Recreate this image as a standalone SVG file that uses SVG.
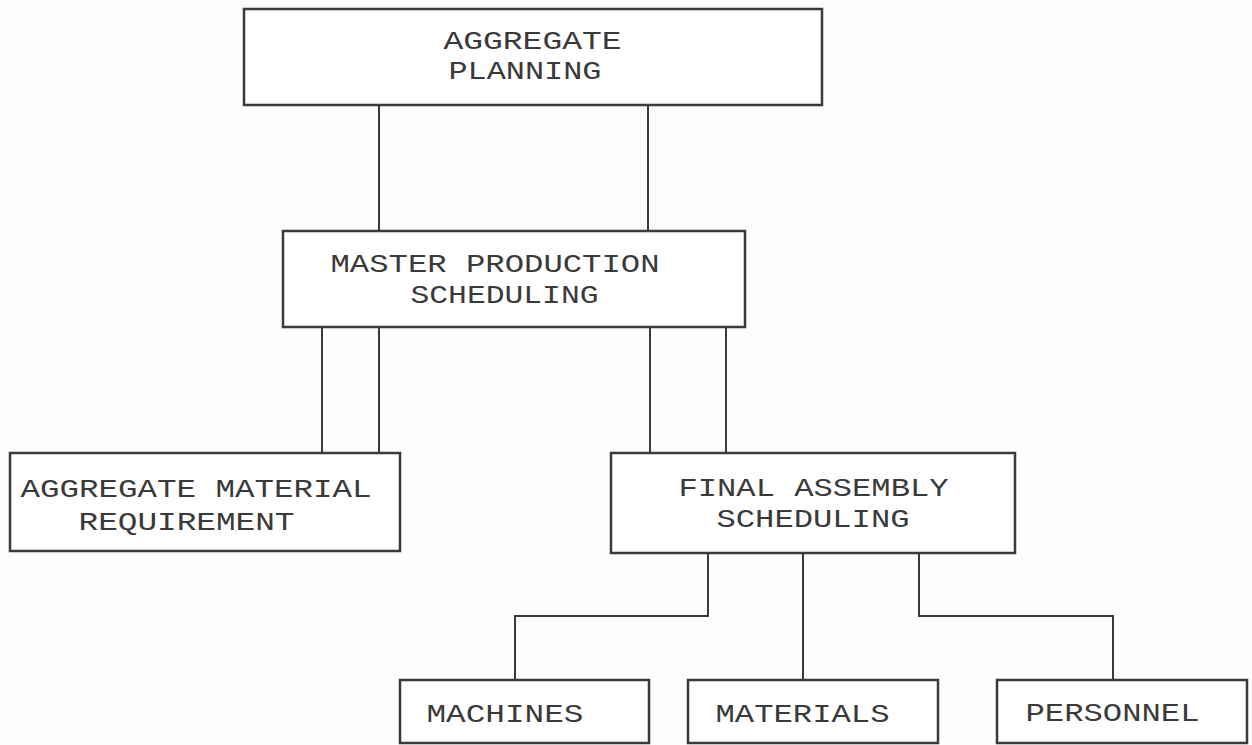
<svg xmlns="http://www.w3.org/2000/svg" width="1252" height="745" viewBox="0 0 1252 745">
<style>
.box{fill:#ffffff;stroke:#3a3a3a;stroke-width:2.5}
.ln{fill:none;stroke:#3a3a3a;stroke-width:2}
.t{font-family:"Liberation Mono","Courier New",monospace;font-size:26px;fill:#3a3a3a;text-anchor:middle}
</style>
<rect width="1252" height="745" fill="#fdfdfd"/>
<g id="connectors">
<line class="ln" x1="379" y1="105" x2="379" y2="231"/>
<line class="ln" x1="648" y1="105" x2="648" y2="231"/>
<line class="ln" x1="322" y1="327" x2="322" y2="453"/>
<line class="ln" x1="379" y1="327" x2="379" y2="453"/>
<line class="ln" x1="650" y1="327" x2="650" y2="453"/>
<line class="ln" x1="726" y1="327" x2="726" y2="453"/>
<polyline class="ln" points="708,553 708,616 515,616 515,680"/>
<line class="ln" x1="803" y1="553" x2="803" y2="680"/>
<polyline class="ln" points="919,553 919,616 1113,616 1113,680"/>
</g>
<g id="aggregate-planning">
<rect class="box" x="244" y="9" width="578" height="96"/>
<text class="t" x="532.5" y="49" textLength="178" lengthAdjust="spacingAndGlyphs">AGGREGATE</text>
<text class="t" x="525" y="79" textLength="153" lengthAdjust="spacingAndGlyphs">PLANNING</text>
</g>
<g id="master-production-scheduling">
<rect class="box" x="283" y="231" width="462" height="96"/>
<text class="t" x="495" y="272" textLength="329" lengthAdjust="spacingAndGlyphs">MASTER PRODUCTION</text>
<text class="t" x="504.5" y="303" textLength="188" lengthAdjust="spacingAndGlyphs">SCHEDULING</text>
</g>
<g id="aggregate-material-requirement">
<rect class="box" x="10" y="453" width="390" height="98"/>
<text class="t" x="196" y="497" textLength="351" lengthAdjust="spacingAndGlyphs">AGGREGATE MATERIAL</text>
<text class="t" x="186.5" y="530" textLength="216" lengthAdjust="spacingAndGlyphs">REQUIREMENT</text>
</g>
<g id="final-assembly-scheduling">
<rect class="box" x="611" y="453" width="404" height="100"/>
<text class="t" x="813.5" y="496" textLength="270" lengthAdjust="spacingAndGlyphs">FINAL ASSEMBLY</text>
<text class="t" x="813" y="527" textLength="193" lengthAdjust="spacingAndGlyphs">SCHEDULING</text>
</g>
<g id="machines">
<rect class="box" x="400" y="680" width="249" height="63"/>
<text class="t" x="505" y="722" textLength="157" lengthAdjust="spacingAndGlyphs">MACHINES</text>
</g>
<g id="materials">
<rect class="box" x="688" y="680" width="250" height="63"/>
<text class="t" x="802.5" y="722" textLength="174" lengthAdjust="spacingAndGlyphs">MATERIALS</text>
</g>
<g id="personnel">
<rect class="box" x="997" y="680" width="250" height="63"/>
<text class="t" x="1112.5" y="721" textLength="174" lengthAdjust="spacingAndGlyphs">PERSONNEL</text>
</g>
</svg>
